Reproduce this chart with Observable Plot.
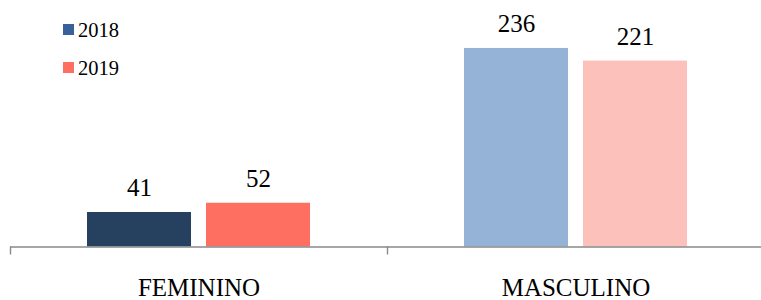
<!DOCTYPE html>
<html>
<head>
<meta charset="utf-8">
<script src="https://cdn.jsdelivr.net/npm/d3@7"></script>
<script src="https://cdn.jsdelivr.net/npm/@observablehq/plot@0.6"></script>
<style>
  html, body { margin: 0; padding: 0; background: #fff; overflow: hidden; }
  #wrap { position: relative; width: 761px; height: 300px; }
  #wrap svg { position: absolute; left: 0; top: 0; }
</style>
</head>
<body>
<div id="wrap"></div>
<script>
const categories = ["FEMININO", "MASCULINO"];
const years = ["2018", "2019"];
const values2018 = [41, 236];
const values2019 = [52, 221];
const colors2018 = ["#26405F", "#95B3D7"];
const colors2019 = ["#FF6F61", "#FDC1BC"];
const legendColors = ["#38619A", "#FF6F61"];

const rows2018 = categories.map((c, i) => ({category: c, value: values2018[i], color: colors2018[i]}));
const rows2019 = categories.map((c, i) => ({category: c, value: values2019[i], color: colors2019[i]}));

const SERIF_FAMILY = '"Liberation Serif", serif';

const chart = Plot.plot({
  width: 761,
  height: 300,
  marginTop: 0,
  marginBottom: 53.5,
  marginLeft: 10,
  marginRight: 0,
  style: {fontFamily: SERIF_FAMILY, background: "transparent", color: "#000"},
  x: {type: "band", domain: categories, range: [10, 764], padding: 0, axis: null},
  y: {domain: [0, 293], axis: null},
  color: {type: "identity"},
  marks: [
    Plot.barY(rows2018, {x: "category", y: "value", fill: "color", insetLeft: 77, insetRight: 196}),
    Plot.barY(rows2019, {x: "category", y: "value", fill: "color", insetLeft: 196, insetRight: 77}),
    Plot.text(rows2018, {x: "category", y: "value", text: d => String(d.value), dx: -59.5, dy: -16.5, lineAnchor: "bottom", fontSize: 25, fill: "#000"}),
    Plot.text(rows2019, {x: "category", y: "value", text: d => String(d.value), dx: 59.5, dy: -16.5, lineAnchor: "bottom", fontSize: 25, fill: "#000"}),
    Plot.ruleY([0], {stroke: "#898989", strokeWidth: 1.4}),
    Plot.axisX({tickSize: 8, text: null, label: null, dx: -188.5, stroke: "#898989", strokeWidth: 1.4}),
    Plot.axisX({tickSize: 0, tickPadding: 31, fontSize: 25, fill: "#000", label: null})
  ]
});
document.getElementById("wrap").appendChild(chart);

// legend overlay (top-left, over the plot area)
const leg = d3.select("#wrap").append("svg")
  .attr("width", 761).attr("height", 300)
  .style("pointer-events", "none")
  .style("font-family", SERIF_FAMILY);
years.forEach((y, i) => {
  const top = 24 + i * 38;
  leg.append("rect").attr("x", 63).attr("y", top).attr("width", 11).attr("height", 11).attr("fill", legendColors[i]);
  leg.append("text").attr("x", 78).attr("y", top + 13).attr("font-size", 20.5).attr("fill", "#000").text(y);
});
</script>
</body>
</html>
